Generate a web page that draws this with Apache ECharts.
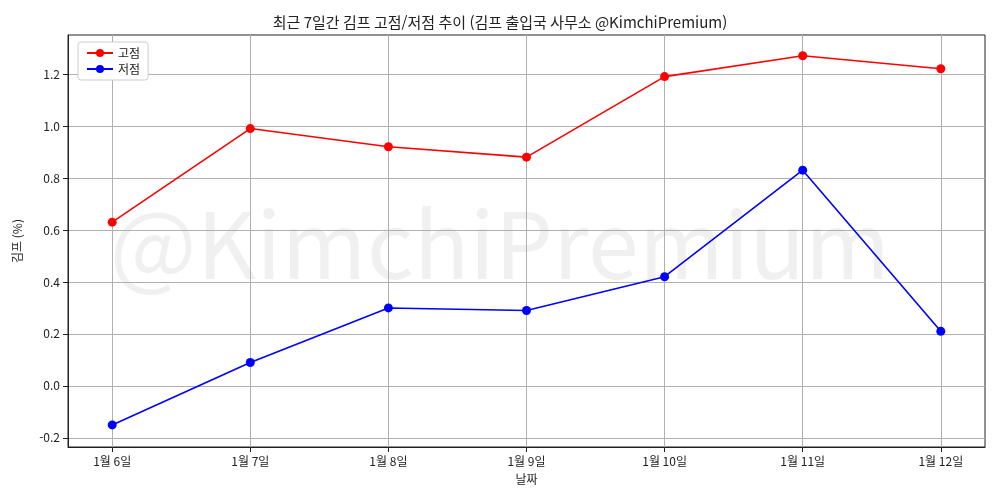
<!DOCTYPE html>
<html lang="ko">
<head>
<meta charset="UTF-8">
<title>김프 고점/저점 추이</title>
<script src="https://cdn.jsdelivr.net/npm/echarts@6/dist/echarts.min.js"></script>
<style>
  html, body { margin: 0; padding: 0; background: #fff; }
  #main { width: 1000px; height: 500px; }
</style>
</head>
<body>
<div id="main"></div>
<script>
  const days = ["1월 6일", "1월 7일", "1월 8일", "1월 9일", "1월 10일", "1월 11일", "1월 12일"];
  const highs = [0.63, 0.99, 0.92, 0.88, 1.19, 1.27, 1.22];
  const lows = [-0.15, 0.09, 0.30, 0.29, 0.42, 0.83, 0.21];
  const yTicks = [-0.2, 0, 0.2, 0.4, 0.6, 0.8, 1.0, 1.2];

  const font = "'Noto Sans CJK KR', 'Noto Sans', sans-serif";
  const chart = echarts.init(document.getElementById("main"));

  function pts(vals) {
    return vals.map(function (v, i) { return [i, v]; });
  }

  chart.setOption({
    animation: false,
    textStyle: { fontFamily: font },
    title: {
      text: "최근 7일간 김프 고점/저점 추이 (김프 출입국 사무소 @KimchiPremium)",
      left: "center", top: 10,
      textStyle: { fontSize: 15, fontWeight: "normal", color: "#222", fontFamily: font }
    },
    graphic: [{
      type: "text", left: "center", top: 198, silent: true, z: 0,
      style: { text: "@KimchiPremium", fontSize: 92, fontFamily: font, fill: "rgba(0,0,0,0.06)" }
    }],
    legend: {
      left: 78, top: 42, orient: "vertical", itemGap: 4,
      backgroundColor: "#fff", borderColor: "#ccc", borderWidth: 1, borderRadius: 3, padding: [5, 8],
      itemWidth: 26, itemHeight: 10,
      textStyle: { fontSize: 12, color: "#222", fontFamily: font }
    },
    grid: { left: 68, right: 15, top: 35, bottom: 53, show: true, borderColor: "#222", borderWidth: 1 },
    xAxis: {
      type: "value", min: -0.32, max: 6.32,
      name: "날짜", nameLocation: "middle", nameGap: 26,
      nameTextStyle: { fontSize: 12, color: "#222" },
      axisLine: { onZero: false, lineStyle: { color: "#222" } },
      axisTick: { show: true, customValues: [0, 1, 2, 3, 4, 5, 6], lineStyle: { color: "#222" } },
      axisLabel: {
        customValues: [0, 1, 2, 3, 4, 5, 6], fontSize: 12, color: "#222",
        formatter: function (v) { return days[Math.round(v)]; }
      },
      splitLine: { show: true, lineStyle: { color: "#b0b0b0" } }
    },
    yAxis: {
      type: "value", min: -0.235, max: 1.35,
      name: "김프 (%)", nameLocation: "middle", nameGap: 45, nameRotate: 90,
      nameTextStyle: { fontSize: 12, color: "#222" },
      axisLine: { show: true, onZero: false, lineStyle: { color: "#222" } },
      axisTick: { show: true, customValues: yTicks, lineStyle: { color: "#222" } },
      axisLabel: {
        customValues: yTicks, fontSize: 12, color: "#222",
        formatter: function (v) { return v.toFixed(1); }
      },
      splitLine: { show: true, lineStyle: { color: "#b0b0b0" } }
    },
    series: [
      {
        name: "고점", type: "line", data: pts(highs),
        symbol: "circle", symbolSize: 9,
        itemStyle: { color: "#ff0000" }, lineStyle: { color: "#ff0000", width: 1.6 }
      },
      {
        name: "저점", type: "line", data: pts(lows),
        symbol: "circle", symbolSize: 9,
        itemStyle: { color: "#0000ff" }, lineStyle: { color: "#0000ff", width: 1.6 }
      }
    ]
  });
</script>
</body>
</html>
